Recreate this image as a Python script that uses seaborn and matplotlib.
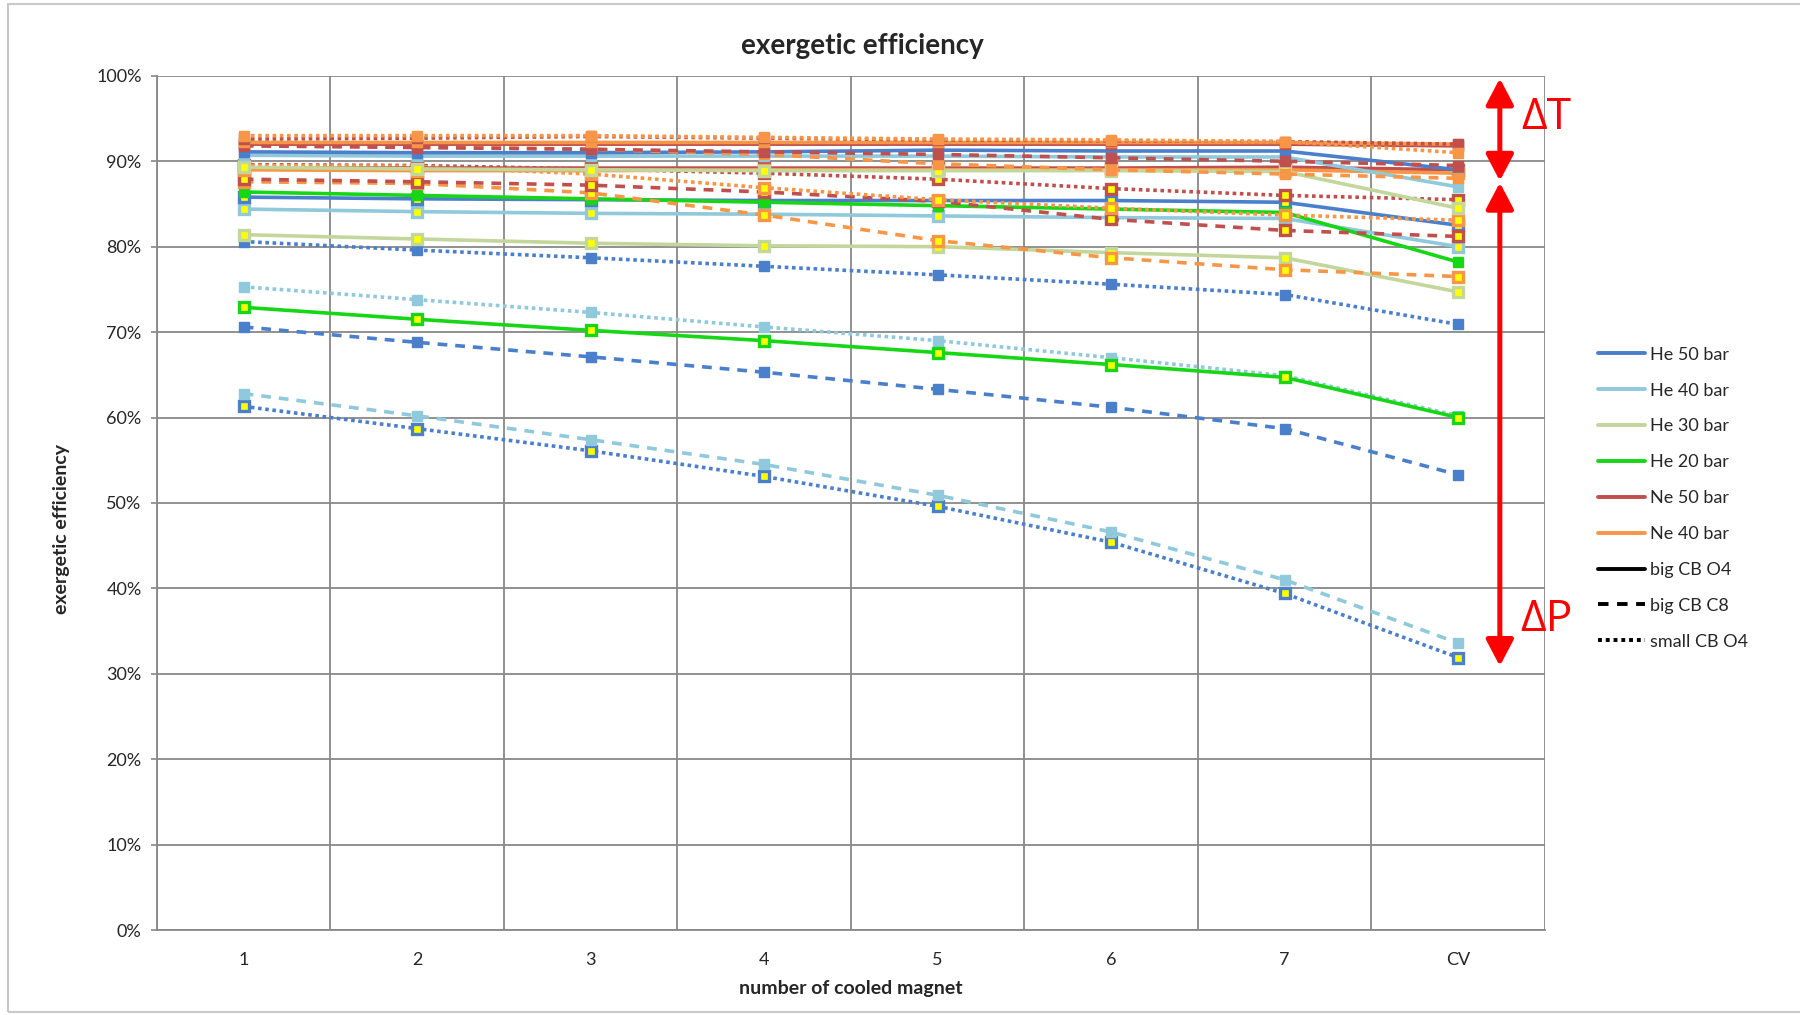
import numpy as np
import matplotlib
matplotlib.use("Agg")
import matplotlib.pyplot as plt
import seaborn as sns
from matplotlib.lines import Line2D
from matplotlib.patches import Rectangle
from matplotlib.ticker import PercentFormatter

# ── data (exergetic efficiency in %, per number of cooled magnets) ───────────
categories = ["1", "2", "3", "4", "5", "6", "7", "CV"]

# upper group (ΔT)
ne40_o4s_a = [93.0, 93.0, 93.0, 92.8, 92.6, 92.5, 92.3, 91.0]
ne50_o4s_a = [92.6, 92.7, 92.9, 92.7, 92.5, 92.4, 92.3, 92.0]
ne40_o4_a  = [92.2, 92.2, 92.2, 92.2, 92.2, 92.2, 92.2, 92.0]
ne50_o4_a  = [92.0, 92.0, 92.0, 92.0, 92.0, 92.0, 92.0, 91.8]
ne50_c8_a  = [91.8, 91.6, 91.4, 91.1, 90.8, 90.4, 90.0, 89.5]
ne40_c8_a  = [91.9, 91.7, 91.4, 90.8, 89.7, 89.0, 88.5, 88.0]
he50_o4_a  = [91.1, 91.0, 91.0, 91.1, 91.3, 91.2, 91.2, 89.0]
he40_o4_a  = [90.7, 90.6, 90.6, 90.6, 90.6, 90.5, 90.5, 87.0]
he30_o4_a  = [89.3, 89.1, 89.0, 88.9, 88.9, 88.9, 88.8, 84.5]

# second group
ne40_o4_b  = [89.0, 88.9, 88.9, 89.0, 89.0, 89.0, 89.0, 88.6]
ne50_o4_b  = [89.2, 89.2, 89.2, 89.2, 89.2, 89.2, 89.3, 89.0]
ne40_o4s_b = [89.5, 89.4, 88.5, 86.9, 85.5, 84.5, 83.7, 83.1]
ne50_o4s_b = [89.6, 89.5, 89.1, 88.6, 87.9, 86.8, 86.0, 85.5]
ne50_c8_b  = [87.9, 87.6, 87.2, 86.4, 85.3, 83.2, 81.9, 81.2]
ne40_c8_b  = [87.6, 87.4, 86.3, 83.7, 80.7, 78.7, 77.3, 76.5]
he20_o4_a  = [86.4, 86.0, 85.6, 85.2, 84.8, 84.4, 84.0, 78.2]
he50_o4_b  = [85.8, 85.6, 85.5, 85.4, 85.4, 85.4, 85.2, 82.5]
he40_o4_b  = [84.4, 84.1, 83.9, 83.8, 83.6, 83.4, 83.3, 80.0]
he30_o4_b  = [81.4, 80.9, 80.4, 80.1, 80.0, 79.3, 78.7, 74.7]
he50_o4s_a = [80.6, 79.6, 78.7, 77.7, 76.7, 75.6, 74.4, 70.9]

# lower group (ΔP)
he40_o4s   = [75.3, 73.8, 72.3, 70.6, 69.0, 67.0, 64.9, 60.2]
he20_o4_b  = [72.9, 71.5, 70.2, 69.0, 67.6, 66.2, 64.7, 60.0]
he50_c8    = [70.6, 68.8, 67.1, 65.3, 63.3, 61.2, 58.7, 53.3]
he40_c8    = [62.8, 60.2, 57.4, 54.5, 50.9, 46.6, 41.0, 33.6]
he50_o4s_b = [61.3, 58.7, 56.1, 53.1, 49.6, 45.4, 39.4, 31.9]

fluids = ["He 50 bar", "He 40 bar", "He 30 bar", "He 20 bar", "Ne 50 bar", "Ne 40 bar"]
configs = ["big CB O4", "big CB C8", "small CB O4"]

# ── styles ───────────────────────────────────────────────────────────────────
COLORS = {"He 50 bar": "#4A7FCB", "He 40 bar": "#8FC9DB", "He 30 bar": "#C3D69B",
          "He 20 bar": "#16D616", "Ne 50 bar": "#C0504D", "Ne 40 bar": "#F79646"}
LINESTYLES = {"big CB O4": "-", "big CB C8": (0, (2.7, 2.2)), "small CB O4": (0, (1, 1))}

# (values, fluid, config, yellow-centred markers), back to front
series = [
    (he50_o4s_b, "He 50 bar", "small CB O4", True),
    (he40_c8,    "He 40 bar", "big CB C8",   False),
    (he50_c8,    "He 50 bar", "big CB C8",   False),
    (he40_o4s,   "He 40 bar", "small CB O4", False),
    (he20_o4_b,  "He 20 bar", "big CB O4",   True),
    (he50_o4s_a, "He 50 bar", "small CB O4", False),
    (he30_o4_b,  "He 30 bar", "big CB O4",   True),
    (he40_o4_b,  "He 40 bar", "big CB O4",   True),
    (he50_o4_b,  "He 50 bar", "big CB O4",   True),
    (he20_o4_a,  "He 20 bar", "big CB O4",   False),
    (ne40_c8_b,  "Ne 40 bar", "big CB C8",   True),
    (ne50_c8_b,  "Ne 50 bar", "big CB C8",   True),
    (ne50_o4s_b, "Ne 50 bar", "small CB O4", True),
    (ne40_o4s_b, "Ne 40 bar", "small CB O4", True),
    (ne50_o4_b,  "Ne 50 bar", "big CB O4",   True),
    (ne40_o4_b,  "Ne 40 bar", "big CB O4",   True),
    (he30_o4_a,  "He 30 bar", "big CB O4",   True),
    (he40_o4_a,  "He 40 bar", "big CB O4",   False),
    (he50_o4_a,  "He 50 bar", "big CB O4",   False),
    (ne40_c8_a,  "Ne 40 bar", "big CB C8",   False),
    (ne50_c8_a,  "Ne 50 bar", "big CB C8",   False),
    (ne50_o4_a,  "Ne 50 bar", "big CB O4",   False),
    (ne40_o4_a,  "Ne 40 bar", "big CB O4",   False),
    (ne50_o4s_a, "Ne 50 bar", "small CB O4", False),
    (ne40_o4s_a, "Ne 40 bar", "small CB O4", False),
]

sns.set_style("white")
plt.rcParams["font.family"] = ["Lato", "DejaVu Sans"]
GRID = "#888888"

fig = plt.figure(figsize=(18, 10.15), dpi=100)
ax = fig.add_axes([0.0872, 0.0837, 0.7711, 0.8416])

xpos = np.arange(1, len(categories) + 1)
for vals, fluid, cfg, yellow in series:
    c = COLORS[fluid]
    sns.lineplot(x=xpos, y=vals, ax=ax, color=c, linestyle=LINESTYLES[cfg],
                 linewidth=2.6, marker="s", markersize=7.2 if yellow else 6.8,
                 markerfacecolor="#FFFF00" if yellow else c, markeredgecolor=c,
                 markeredgewidth=2.4 if yellow else 1.0, errorbar=None,
                 legend=False, sort=False)

# axes, ticks, grid
ax.set_xlim(0.5, 8.5)
ax.set_ylim(0, 100)
ax.set_xticks(xpos)
ax.set_xticklabels(categories)
ax.set_xticks(np.arange(0.5, 9.0, 1.0), minor=True)
ax.set_yticks(np.arange(0, 101, 10))
ax.yaxis.set_major_formatter(PercentFormatter(100, decimals=0))
ax.tick_params(axis="x", which="major", length=0, pad=15.5, labelsize=13)
ax.tick_params(axis="x", which="minor", length=5, width=1.2, color=GRID, direction="out")
ax.tick_params(axis="y", which="major", length=4, width=1.2, color=GRID, pad=7,
               labelsize=13, left=True)
ax.xaxis.grid(True, which="minor", color=GRID, lw=1.3)
ax.yaxis.grid(True, which="major", color=GRID, lw=1.3)
ax.set_axisbelow(True)
for side in ["left", "bottom"]:
    ax.spines[side].set_color(GRID)
    ax.spines[side].set_linewidth(1.3)
for side in ["top", "right"]:
    ax.spines[side].set_visible(False)

ax.set_xlabel("number of cooled magnet", fontsize=14, fontweight="bold", labelpad=9)
ax.set_ylabel("exergetic efficiency", fontsize=14, fontweight="bold")
ax.yaxis.set_label_coords(-0.063, 0.47)
fig.text(862 / 1800, 1 - 46 / 1015, "exergetic efficiency", ha="center", va="center",
         fontsize=20, fontweight="bold")

# ΔT / ΔP arrows
arrow_kw = dict(arrowstyle="<|-|>,head_length=0.8,head_width=0.42", color="#FF0000",
                lw=3.6, mutation_scale=20, shrinkA=0, shrinkB=0)
ax.annotate("", xy=(8.24, 87.7), xytext=(8.24, 99.7), arrowprops=arrow_kw,
            annotation_clip=False)
ax.annotate("", xy=(8.24, 30.9), xytext=(8.24, 87.5), arrowprops=arrow_kw,
            annotation_clip=False)
ax.text(8.51, 95.1, "ΔT", color="#FF0000", fontsize=32, ha="center", va="center",
        family=["Open Sans", "DejaVu Sans"], clip_on=False)
ax.text(8.51, 36.3, "ΔP", color="#FF0000", fontsize=32, ha="center", va="center",
        family=["Open Sans", "DejaVu Sans"], clip_on=False)

# proxy legend: colours for fluids, line styles for configurations
handles = [Line2D([], [], color=COLORS[f], lw=2.8) for f in fluids]
handles += [Line2D([], [], color="black", lw=2.8, linestyle=LINESTYLES[c]) for c in configs]
fig.legend(handles, fluids + configs, loc="upper left", bbox_to_anchor=(0.884, 0.6655),
           frameon=False, fontsize=13, handlelength=2.6, handletextpad=0.25,
           labelspacing=1.1, borderaxespad=0)

# outer chart-area border
fig.patches.append(Rectangle((8 / 1800, 3 / 1015), 1.0, 1008 / 1015, transform=fig.transFigure,
                             fill=False, edgecolor="#c8c8c8", lw=1.5))

plt.savefig("out.png", dpi=100)
